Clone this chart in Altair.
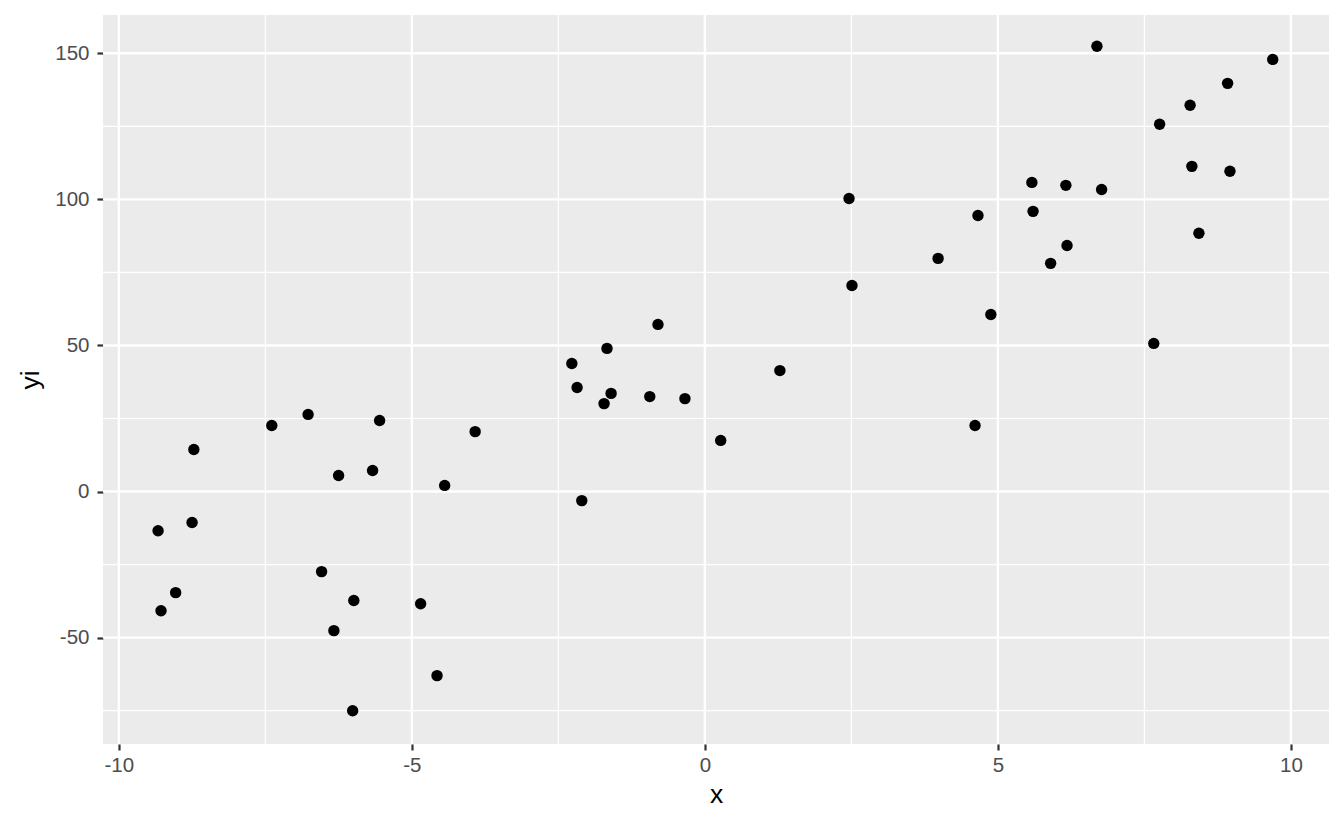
import altair as alt
import pandas as pd

xs = [-9.33, -9.28, -9.03, -8.75, -8.72, -7.39, -6.77, -6.54, -6.33, -6.25,
      -6.01, -5.99, -5.67, -5.55, -4.85, -4.57, -4.44, -3.92, -2.27, -2.18,
      -2.10, -1.72, -1.67, -1.60, -0.94, -0.80, -0.34, 0.27, 1.28, 2.46,
      2.51, 3.98, 4.61, 4.66, 4.88, 5.58, 5.60, 5.90, 6.16, 6.18,
      6.69, 6.77, 7.66, 7.76, 8.28, 8.31, 8.43, 8.92, 8.96, 9.69]
ys = [-13.4, -40.8, -34.6, -10.6, 14.4, 22.6, 26.4, -27.4, -47.6, 5.5,
      -75.0, -37.3, 7.2, 24.3, -38.4, -63.0, 2.1, 20.5, 43.8, 35.6,
      -3.1, 30.1, 49.0, 33.6, 32.5, 57.2, 31.8, 17.5, 41.4, 100.3,
      70.5, 79.8, 22.6, 94.5, 60.6, 105.8, 95.9, 78.1, 104.8, 84.2,
      152.4, 103.4, 50.7, 125.7, 132.2, 111.3, 88.4, 139.7, 109.6, 147.9]

x_major = [-10, -5, 0, 5, 10]
x_minor = [-7.5, -2.5, 2.5, 7.5]
y_major = [-50, 0, 50, 100, 150]
y_minor = [-75, -25, 25, 75, 125]

x_domain = [-10.27, 10.65]
y_domain = [-86.4, 163.1]

df = pd.DataFrame({"x": xs, "yi": ys})

FONT = "Liberation Sans"

xscale = alt.Scale(domain=x_domain, nice=False, zero=False)
yscale = alt.Scale(domain=y_domain, nice=False, zero=False)

vminor = alt.Chart(pd.DataFrame({"v": x_minor})).mark_rule(color="white", strokeWidth=1.2).encode(
    x=alt.X("v:Q", scale=xscale))
hminor = alt.Chart(pd.DataFrame({"v": y_minor})).mark_rule(color="white", strokeWidth=1.2).encode(
    y=alt.Y("v:Q", scale=yscale))
vmajor = alt.Chart(pd.DataFrame({"v": x_major})).mark_rule(color="white", strokeWidth=2.4).encode(
    x=alt.X("v:Q", scale=xscale))
hmajor = alt.Chart(pd.DataFrame({"v": y_major})).mark_rule(color="white", strokeWidth=2.4).encode(
    y=alt.Y("v:Q", scale=yscale))

points = alt.Chart(df).mark_circle(color="black", opacity=1, size=130).encode(
    x=alt.X("x:Q", scale=xscale, title="x",
            axis=alt.Axis(values=x_major, grid=False, domain=False,
                          labelExpr="toString(datum.value)")),
    y=alt.Y("yi:Q", scale=yscale, title="yi",
            axis=alt.Axis(values=y_major, grid=False, domain=False,
                          labelExpr="toString(datum.value)")),
)

chart = alt.layer(vminor, hminor, vmajor, hmajor, points).properties(
    width=1226, height=729,
    autosize=alt.AutoSizeParams(type="none"),
    padding={"left": 95, "top": 7, "right": 7, "bottom": 78},
).configure_view(
    fill="#EBEBEB", stroke=None
).configure_axis(
    labelFont=FONT, labelFontSize=20.5, labelColor="#4D4D4D",
    tickColor="#333333", tickSize=6, tickWidth=2.2,
    labelPadding=5,
    titleFont=FONT, titleFontSize=26.5, titleColor="black", titleFontWeight="normal",
).configure_axisX(
    titlePadding=6,
).configure_axisY(
    titlePadding=10, labelPadding=8,
)

chart.save("out.html", embed_options={"renderer": "svg", "actions": False})
